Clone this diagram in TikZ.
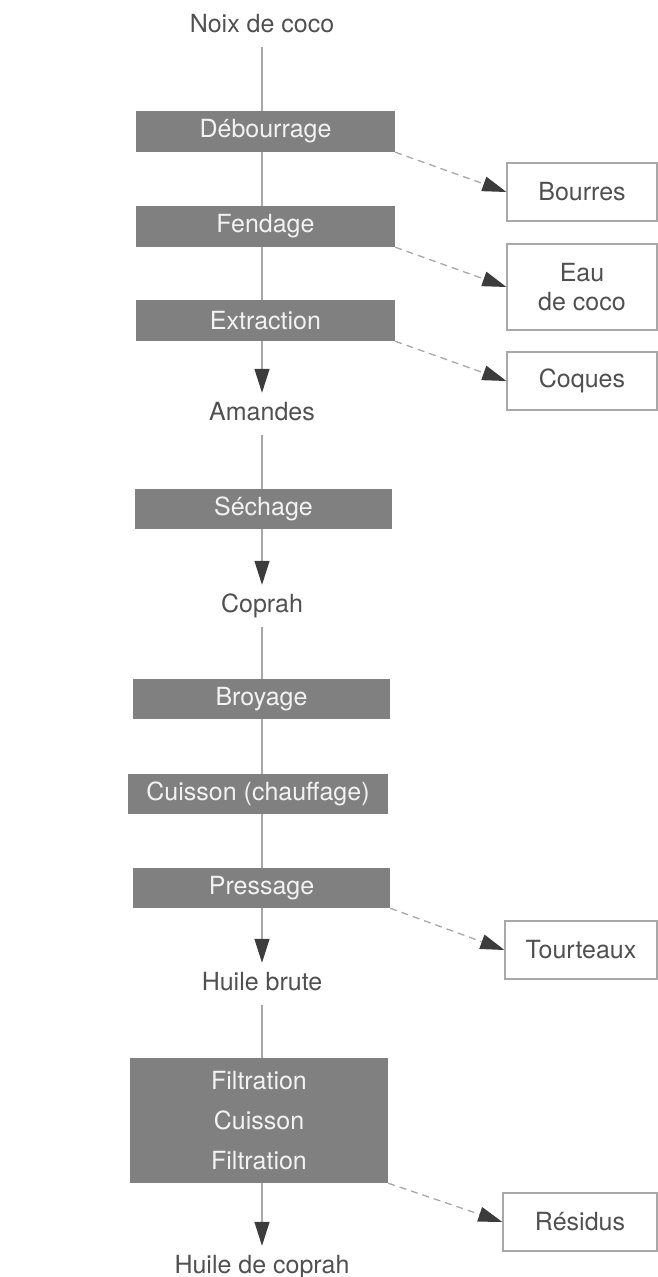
\documentclass[tikz,border=0pt]{standalone}
\usepackage{fontspec}
\setmainfont{TeX Gyre Heros}
\usetikzlibrary{arrows.meta,backgrounds}
\definecolor{procgray}{RGB}{128,128,128}
\definecolor{proctext}{RGB}{242,242,242}
\definecolor{txtgray}{RGB}{80,80,80}
\definecolor{linegray}{RGB}{168,168,168}
\definecolor{headgray}{RGB}{60,60,60}
\begin{document}
\begin{tikzpicture}[x=1pt,y=-1pt,
  proc/.style={fill=procgray, text=proctext, minimum width=258pt, minimum height=41pt, inner sep=0pt, font=\fontsize{25}{40}\selectfont, align=center},
  outbox/.style={draw=linegray, line width=1.2pt, text=txtgray, minimum width=150pt, minimum height=58pt, inner sep=0pt, font=\fontsize{25}{29}\selectfont, align=center},
  lbl/.style={text=txtgray, inner sep=0pt, text height=18pt, text depth=5pt, font=\fontsize{25}{30}\selectfont},
  flow/.style={draw=linegray, line width=1.3pt, shorten <=10pt, shorten >=9pt, -{Triangle[length=24pt,width=15pt,color=headgray,fill=headgray]}},
  side/.style={draw=linegray, line width=1.3pt, dash pattern=on 7pt off 5pt, -{Triangle[length=24pt,width=15pt,color=headgray,fill=headgray]}}
]
\useasboundingbox (0,0) rectangle (658,1277);

% labels
\node[lbl] (noix) at (262,25.5) {Noix de coco};
\node[lbl] (amandes) at (262,413.5) {Amandes};
\node[lbl] (coprah) at (262,605.5) {Coprah};
\node[lbl] (brute) at (262,983.5) {Huile brute};
\node[lbl] (huile) at (262,1266.5) {Huile de coprah};

% process boxes
\node[proc, minimum width=259pt] (deb) at (265.5,131.5) {Débourrage};
\node[proc, minimum width=259pt] (fen) at (265.5,226.5) {Fendage};
\node[proc, minimum width=259pt] (ext) at (265.5,320.5) {Extraction};
\node[proc, minimum width=257pt, minimum height=40pt] (sec) at (263.5,509) {Séchage};
\node[proc, minimum width=257pt, minimum height=40pt] (bro) at (261.5,699) {Broyage};
\node[proc, minimum width=260pt, minimum height=40pt] (cui) at (258,794) {Cuisson (chauffage)};
\node[proc, minimum width=257pt, minimum height=40pt] (pre) at (261.5,888) {Pressage};
\node[proc, minimum width=258pt, minimum height=125pt] (fil) at (259,1120.5) {Filtration\\Cuisson\\Filtration};

% by-products
\node[outbox] (bourres) at (582,192) {Bourres};
\node[outbox, minimum height=86pt] (eau) at (582,287) {Eau\\de coco};
\node[outbox] (coques) at (582,381) {Coques};
\node[outbox, minimum width=152pt] (tour) at (581,950) {Tourteaux};
\node[outbox, minimum width=154pt] (res) at (580,1222) {Résidus};

\begin{scope}[on background layer]
\draw[flow] (noix.south) -- (amandes.north);
\draw[flow] (amandes.south) -- (coprah.north);
\draw[flow] (coprah.south) -- (brute.north);
\draw[flow] (brute.south) -- (huile.north);
\end{scope}

\draw[side] (deb.south east) -- (bourres.west);
\draw[side] (fen.south east) -- (eau.west);
\draw[side] (ext.south east) -- (coques.west);
\draw[side] (pre.south east) -- (tour.west);
\draw[side] (fil.south east) -- (res.west);
\end{tikzpicture}
\end{document}
